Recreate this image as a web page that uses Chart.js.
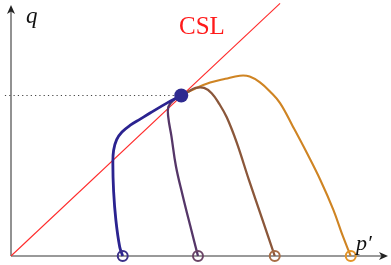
<!DOCTYPE html>
<html>
<head>
<meta charset="utf-8">
<script src="https://cdn.jsdelivr.net/npm/chart.js@4"></script>
<style>
  html, body { margin: 0; padding: 0; background: #fff; }
  #wrap { width: 391px; height: 265px; }
</style>
</head>
<body>
<div id="wrap"><canvas id="grafica"></canvas></div>
<script>
// stress paths in (p', q)
var blueP   = [1.47, 1.43, 1.38, 1.35, 1.34, 1.35, 1.39, 1.46, 1.57, 1.70, 1.83, 2.05, 2.24];
var blueQ   = [0.00, 0.12, 0.47, 0.85, 1.22, 1.39, 1.53, 1.63, 1.72, 1.80, 1.88, 2.01, 2.11];
var purpleP = [2.46, 2.36, 2.26, 2.17, 2.11, 2.07, 2.07, 2.14, 2.24];
var purpleQ = [0.00, 0.39, 0.79, 1.18, 1.58, 1.82, 1.96, 2.05, 2.11];
var brownP  = [2.24, 2.33, 2.43, 2.54, 2.64, 2.74, 2.84, 2.97, 3.13, 3.30, 3.47];
var brownQ  = [2.11, 2.16, 2.21, 2.21, 2.14, 2.00, 1.82, 1.49, 1.00, 0.50, 0.00];
var orangeP = [2.24, 2.42, 2.62, 2.82, 3.01, 3.14, 3.28, 3.41, 3.54, 3.71, 3.89, 4.07, 4.24, 4.37, 4.47];
var orangeQ = [2.11, 2.20, 2.28, 2.33, 2.37, 2.36, 2.28, 2.16, 2.01, 1.70, 1.36, 1.00, 0.61, 0.25, 0.00];
var startP = [1.47, 2.46, 3.47, 4.47];          // initial states on the p' axis
var critical = { p: 2.24, q: 2.11 };            // common critical state
var cslSlope = 0.938;
var xMax = 4.96, yMax = 3.30;

function pts(xs, ys) {
    return xs.map(function (x, i) { return { x: x, y: ys[i] }; });
}

function path(xs, ys, color, width, order) {
    return {
        data: pts(xs, ys),
        showLine: true,
        borderColor: color,
        borderWidth: width,
        pointRadius: 0,
        tension: 0.4,
        clip: false,
        order: order
    };
}

var circleColors = ['#3b3088', '#6b4566', '#a86d45', '#e39427'];

var datasets = [
    // axes
    { data: [{ x: 0, y: 0 }, { x: xMax - 0.05, y: 0 }], showLine: true, borderColor: '#777', borderWidth: 1.6, pointRadius: 0, clip: false, order: 9 },
    { data: [{ x: 0, y: 0 }, { x: 0, y: yMax - 0.05 }], showLine: true, borderColor: '#777', borderWidth: 1.6, pointRadius: 0, clip: false, order: 9 },
    // dotted level of the critical state
    { data: [{ x: -0.08, y: critical.q }, { x: critical.p, y: critical.q }], showLine: true, borderColor: '#444', borderWidth: 1.2, borderDash: [1.2, 3.1], pointRadius: 0, clip: false, order: 8 },
    // CSL
    { data: [{ x: 0, y: 0 }, { x: 3.54, y: 3.54 * cslSlope }], showLine: true, borderColor: '#ff2a2a', borderWidth: 1.1, pointRadius: 0, clip: false, order: 7 },
    path(orangeP, orangeQ, '#cf8423', 2.1, 5),
    path(brownP, brownQ, '#8b573a', 2.3, 4),
    path(purpleP, purpleQ, '#553668', 2.3, 3),
    path(blueP, blueQ, '#2b2390', 2.8, 2),
    // start circles
    {
        data: startP.map(function (p) { return { x: p, y: 0 }; }),
        showLine: false,
        pointRadius: 5,
        pointBorderWidth: 2,
        pointBackgroundColor: 'rgba(255,255,255,0)',
        pointBorderColor: circleColors,
        clip: false,
        order: 1
    },
    // critical state point
    {
        data: [{ x: critical.p, y: critical.q }],
        showLine: false,
        pointRadius: 7,
        pointBorderWidth: 0,
        pointBackgroundColor: '#2e2a8f',
        clip: false,
        order: 0
    }
];

var decor = {
    id: 'decor',
    afterDatasetsDraw: function (chart) {
        var c = chart.ctx;
        var xs = chart.scales.x, ys = chart.scales.y;
        var ox = xs.getPixelForValue(0), oy = ys.getPixelForValue(0);
        var ex = xs.getPixelForValue(xMax), ty = ys.getPixelForValue(yMax);
        c.save();
        c.fillStyle = '#222';
        // x arrow
        c.beginPath();
        c.moveTo(ex, oy);
        c.lineTo(ex - 9, oy - 4);
        c.lineTo(ex - 6.5, oy);
        c.lineTo(ex - 9, oy + 4);
        c.closePath();
        c.fill();
        // y arrow
        c.beginPath();
        c.moveTo(ox, ty);
        c.lineTo(ox - 4, ty + 9);
        c.lineTo(ox, ty + 6.5);
        c.lineTo(ox + 4, ty + 9);
        c.closePath();
        c.fill();
        // labels
        c.fillStyle = '#111';
        c.font = 'italic 23px "Liberation Serif"';
        c.textBaseline = 'alphabetic';
        c.fillText('q', 26, 23);
        c.font = 'italic 22px "Liberation Serif"';
        c.fillText('p\u2032', 356, 250);
        c.fillStyle = '#ff1a1a';
        c.font = '25px "Liberation Serif"';
        c.fillText('CSL', 179, 34);
        c.restore();
    }
};

var ctx = document.getElementById('grafica').getContext('2d');
var chart = new Chart(ctx, {
    type: 'scatter',
    data: { datasets: datasets },
    options: {
        responsive: true,
        maintainAspectRatio: false,
        animation: false,
        layout: { autoPadding: false, padding: { left: 11, right: 3, top: 5, bottom: 9 } },
        scales: {
            x: { type: 'linear', min: 0, max: xMax, display: false },
            y: { type: 'linear', min: 0, max: yMax, display: false }
        },
        plugins: {
            legend: { display: false },
            tooltip: { enabled: false }
        }
    },
    plugins: [decor]
});
</script>
</body>
</html>
